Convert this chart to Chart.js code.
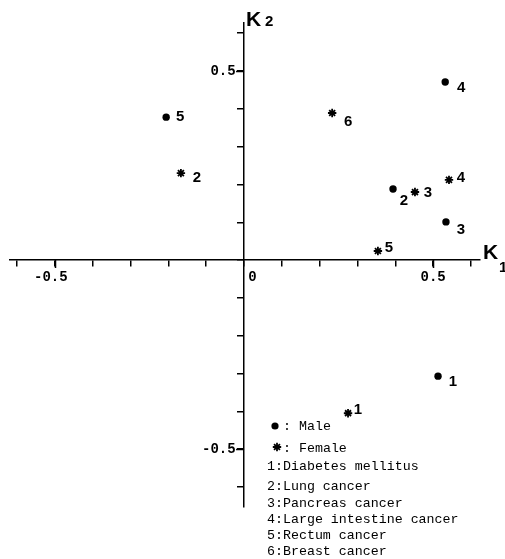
<!DOCTYPE html>
<html><head><meta charset="utf-8">
<script src="https://cdn.jsdelivr.net/npm/chart.js@4.4.1/dist/chart.umd.min.js"></script>
<style>html,body{margin:0;padding:0;background:#fff;} #wrap{width:505px;height:559px;position:relative;}</style>
</head><body><div id="wrap"><canvas id="c" width="505" height="559"></canvas></div>
<script>
// ---- data ----
const diseaseCodes = ['1', '2', '3', '4', '5', '6'];
const diseaseNames = ['Diabetes mellitus', 'Lung cancer', 'Pancreas cancer', 'Large intestine cancer', 'Rectum cancer', 'Breast cancer'];
const maleCodes = ['1', '2', '3', '4', '5'];
const maleK1 = [0.513, 0.394, 0.534, 0.532, -0.206];
const maleK2 = [-0.307, 0.188, 0.101, 0.471, 0.378];
const femaleCodes = ['1', '2', '3', '4', '5', '6'];
const femaleK1 = [0.275, -0.167, 0.452, 0.542, 0.354, 0.233];
const femaleK2 = [-0.405, 0.230, 0.180, 0.212, 0.024, 0.389];
const xTickValues = [-0.5, 0, 0.5];
const xTickLabels = ['-0.5', '0', '0.5'];
const yTickValues = [0.5, -0.5];
const yTickLabels = ['0.5', '-0.5'];
const seriesNames = ['Male', 'Female'];
const axisTitles = ['K', '1', 'K', '2'];

const toPoints = (xs, ys) => xs.map((x, i) => ({x: x, y: ys[i]}));
const findLabel = (vals, labels, v) => {
  const i = vals.findIndex(t => Math.abs(t - v) < 1e-6);
  return i < 0 ? '' : labels[i];
};

const MONO = '"Liberation Mono", "DejaVu Sans Mono", monospace';
const SANS = '"Liberation Sans", "DejaVu Sans", Arial, sans-serif';

const extras = {
  id: 'extras',
  afterDatasetsDraw(chart, args, opts) {
    const ctx = chart.ctx;
    ctx.save();
    ctx.fillStyle = '#000';
    ctx.font = 'bold 15px ' + SANS;
    ctx.textAlign = 'center';
    ctx.textBaseline = 'middle';
    const codeSets = [maleCodes, femaleCodes];
    chart.data.datasets.forEach((ds, i) => {
      const meta = chart.getDatasetMeta(i);
      meta.data.forEach((el, j) => {
        const off = opts.offsets[i][j];
        ctx.fillText(codeSets[i][j], el.x + off[0], el.y + off[1]);
      });
    });
    ctx.restore();
  },
  afterDraw(chart, args, opts) {
    const ctx = chart.ctx;
    const xs = chart.scales.x, ys = chart.scales.y;
    const x0 = xs.getPixelForValue(0), y0 = ys.getPixelForValue(0);
    ctx.save();
    ctx.strokeStyle = '#000';
    ctx.lineWidth = 1.5;
    // major ticks crossing the axes
    ctx.beginPath();
    xTickValues.filter(v => v !== 0).forEach(v => {
      const px = Math.round(xs.getPixelForValue(v)) + 0.5;
      ctx.moveTo(px, y0); ctx.lineTo(px, y0 + 8);
    });
    yTickValues.forEach(v => {
      const py = Math.round(ys.getPixelForValue(v)) + 0.5;
      ctx.moveTo(x0 - 8, py); ctx.lineTo(x0, py);
    });
    ctx.stroke();

    // axis titles
    ctx.fillStyle = '#000';
    ctx.textBaseline = 'alphabetic';
    ctx.textAlign = 'left';
    ctx.font = 'bold 21px ' + SANS;
    ctx.fillText(axisTitles[2], x0 + 2, 26);
    ctx.font = 'bold 15px ' + SANS;
    ctx.fillText(axisTitles[3], x0 + 21, 26);
    ctx.font = 'bold 21px ' + SANS;
    ctx.fillText(axisTitles[0], xs.right + 3, y0 - 1);
    ctx.font = 'bold 15px ' + SANS;
    ctx.fillText(axisTitles[1], xs.right + 19, y0 + 12);

    // legend / key
    ctx.font = '13.3px ' + MONO;
    ctx.textBaseline = 'middle';
    ctx.beginPath();
    ctx.arc(275, 426, 3.6, 0, Math.PI * 2);
    ctx.fill();
    ctx.lineWidth = 1.8;
    Chart.helpers.drawPoint(ctx, {pointStyle: 'star', radius: 4.2, borderWidth: 1.8}, 277, 447);
    ctx.fillText(': ' + seriesNames[0], 283, 426);
    ctx.fillText(': ' + seriesNames[1], 283, 448);
    const rowY = [466, 486, 503, 519, 535, 551];
    diseaseCodes.forEach((c, i) => {
      ctx.fillText(c + ':' + diseaseNames[i], 267, rowY[i]);
    });
    ctx.restore();
  }
};

new Chart(document.getElementById('c'), {
  type: 'scatter',
  data: {
    datasets: [
      {label: seriesNames[0], data: toPoints(maleK1, maleK2), pointStyle: 'circle', pointRadius: 3.7,
       backgroundColor: '#000', borderColor: '#000', borderWidth: 0},
      {label: seriesNames[1], data: toPoints(femaleK1, femaleK2), pointStyle: 'star', pointRadius: 4.2,
       backgroundColor: '#000', borderColor: '#000', borderWidth: 1.8}
    ]
  },
  options: {
    responsive: false,
    animation: false,
    layout: {padding: {left: 10, right: 25, top: 23, bottom: 52}},
    plugins: {
      legend: {display: false},
      tooltip: {enabled: false},
      extras: {
        offsets: [
          [[15, 6], [11, 12], [15, 8], [16, 6], [14, 0]],
          [[10, -3], [16, 5], [13, 1], [12, -2], [11, -3], [16, 9]]
        ]
      }
    },
    scales: {
      x: {
        type: 'linear',
        position: {y: 0},
        min: -0.619, max: 0.624,
        grid: {display: true, drawOnChartArea: false, drawTicks: true, tickLength: 6, color: '#000', lineWidth: 1.5},
        border: {display: true, color: '#000', width: 1.5},
        ticks: {
          stepSize: 0.1, includeBounds: false, maxTicksLimit: 30, autoSkip: false, maxRotation: 0,
          color: '#000', padding: 3,
          font: {family: MONO, size: 14, weight: 'bold'},
          callback: (v) => {
            const s = findLabel(xTickValues, xTickLabels, v);
            if (s === '0') return '  0';
            if (s.startsWith('-')) return s + ' ';
            return s;
          }
        }
      },
      y: {
        type: 'linear',
        position: {x: 0},
        min: -0.653, max: 0.627,
        grid: {display: true, drawOnChartArea: false, drawTicks: true, tickLength: 6, color: '#000', lineWidth: 1.5},
        border: {display: true, color: '#000', width: 1.5},
        ticks: {
          stepSize: 0.1, includeBounds: false, maxTicksLimit: 30, autoSkip: false,
          color: '#000',
          font: {family: MONO, size: 14, weight: 'bold'},
          callback: (v) => {
            const s = findLabel(yTickValues, yTickLabels, v);
            return s ? s + ' ' : '';
          }
        }
      }
    }
  },
  plugins: [extras]
});
</script>
</body></html>
